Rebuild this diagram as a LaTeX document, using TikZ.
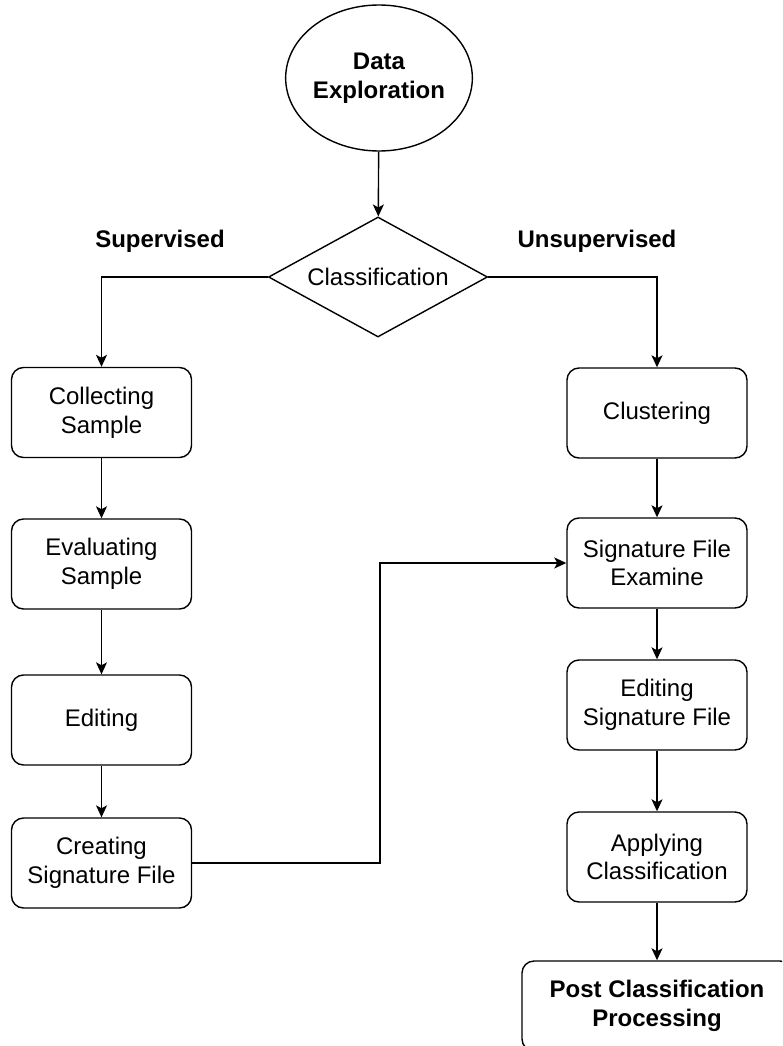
\documentclass[tikz,border=0pt]{standalone}
\usepackage{fontspec}
\setmainfont{Liberation Sans}
\usetikzlibrary{shapes.geometric,arrows.meta}
\begin{document}
\begin{tikzpicture}[x=1pt,y=-1pt,
  every node/.style={font=\fontsize{24}{28.8}\selectfont},
  line/.style={line width=1.4pt,draw=black},
  arr/.style={line, -{Stealth[length=12pt,width=11pt,inset=3pt]}},
  box/.style={draw, line width=1.4pt, rounded corners=12pt, minimum width=180pt, minimum height=90pt, align=center, inner sep=2pt},
  lab/.style={font=\fontsize{24}{28.8}\selectfont\bfseries}]
\clip (0,0) rectangle (782,1046);
\useasboundingbox (0,0) rectangle (782,1046);
\node[draw, line width=1.4pt, ellipse, minimum width=184pt, minimum height=146pt, align=center, inner sep=0pt, font=\fontsize{24}{28.8}\selectfont\bfseries] (ell) at (379,78) {Data\\Exploration};
\node[draw, line width=1.4pt, diamond, shape aspect=1.8, minimum width=219pt, minimum height=120pt, inner sep=0pt] (dia) at (378,277) {Classification};
\node[lab] (sup) at (160,241) {Supervised};
\node[lab] (uns) at (597,241) {Unsupervised};
\node[box] (col) at (101.5,412.5) {Collecting\\Sample};
\node[box] (eva) at (101.5,564) {Evaluating\\Sample};
\node[box] (edi) at (101.5,720) {Editing};
\node[box] (cre) at (101.5,863) {Creating\\Signature File};
\node[box] (clu) at (657,413) {Clustering};
\node[box] (sig) at (657,563) {Signature File\\Examine};
\node[box] (esf) at (657,705) {Editing\\Signature File};
\node[box] (app) at (657,857) {Applying\\Classification};
\node[box, minimum width=270pt, font=\fontsize{24}{28.8}\selectfont\bfseries] (post) at (657,1006) {Post Classification\\Processing};
\coordinate (j) at (380,0);
\draw[arr] (ell) -- (dia);
\draw[arr] (dia.west) -| (col.north);
\draw[arr] (dia.east) -| (clu.north);
\draw[arr] (col) -- (eva);
\draw[arr] (eva) -- (edi);
\draw[arr] (edi) -- (cre);
\draw[arr] (cre.east) -| (j |- sig.west) -- (sig.west);
\draw[arr] (clu) -- (sig);
\draw[arr] (sig) -- (esf);
\draw[arr] (esf) -- (app);
\draw[arr] (app) -- (post);
\end{tikzpicture}
\end{document}
